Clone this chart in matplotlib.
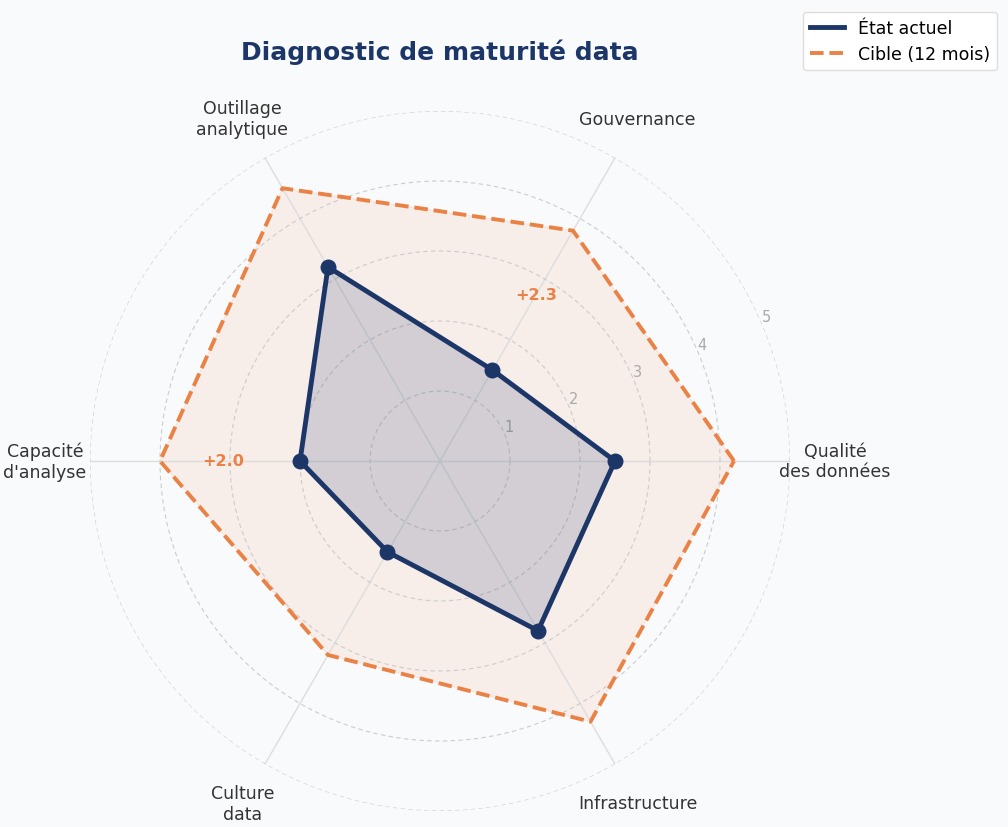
import numpy as np
import matplotlib
matplotlib.use("Agg")
import matplotlib.pyplot as plt

categories = ["Qualité\ndes données", "Gouvernance", "Outillage\nanalytique",
              "Capacité\nd'analyse", "Culture\ndata", "Infrastructure"]
current = [2.5, 1.5, 3.2, 2.0, 1.5, 2.8]
target = [4.2, 3.8, 4.5, 4.0, 3.2, 4.3]
rticks = [1, 2, 3, 4, 5]

navy = "#1c3668"
orange = "#eb8245"
bg = "#f9fafc"

fig = plt.figure(figsize=(10.08, 8.28), dpi=100, facecolor=bg)
ax = fig.add_axes([90/1008, 16/828, 700/1008, 700/828], projection="polar")
ax.set_facecolor(bg)

n = len(categories)
ang = np.linspace(0, 2*np.pi, n, endpoint=False)
angc = np.concatenate([ang, ang[:1]])
cur = np.array(current + current[:1])
tgt = np.array(target + target[:1])

ax.fill(angc, tgt, color=orange, alpha=0.1, zorder=1)
ax.plot(angc, tgt, color=orange, lw=2.8, ls=(0, (3.5, 1.5)), label="Cible (12 mois)", zorder=2)
ax.fill(angc, cur, color=navy, alpha=0.17, zorder=3)
ax.plot(angc, cur, color=navy, lw=3.5, label="État actuel", zorder=4)
ax.scatter(ang, current, s=110, color=navy, zorder=5)

gaps = np.array(target) - np.array(current)
for i in np.argsort(gaps)[::-1][:2]:
    r = (current[i] + target[i]) / 2 + 0.1
    ax.text(ang[i], r, f"+{gaps[i]:.1f}", color=orange, fontsize=11.5,
            fontweight="bold", ha="center", va="center", zorder=6)

ax.set_ylim(0, 5)
ax.set_xticks(ang)
ax.set_xticklabels(categories, fontsize=12.5, color="#333333")
ax.tick_params(axis="x", pad=22)
ax.set_yticks(rticks)
ax.set_yticklabels([str(t) for t in rticks], fontsize=10.5, color="#aaaaaa")
ax.set_rlabel_position(23)
ax.yaxis.grid(True, color="#cccccc", ls=(0, (4, 3)), lw=0.8)
ax.xaxis.grid(True, color="#dddddd", ls="-", lw=1)
ax.spines["polar"].set_visible(False)

h, l = ax.get_legend_handles_labels()
fig.legend(h[::-1], l[::-1], loc="upper right", bbox_to_anchor=(0.998, 0.995),
           fontsize=12.5, framealpha=1, edgecolor="#dddddd")
fig.text(440/1008, 1 - 52/828, "Diagnostic de maturité data", ha="center", va="center",
         fontsize=18, fontweight="bold", color="#1c3668")
fig.savefig("out.png", dpi=100, facecolor=bg)
